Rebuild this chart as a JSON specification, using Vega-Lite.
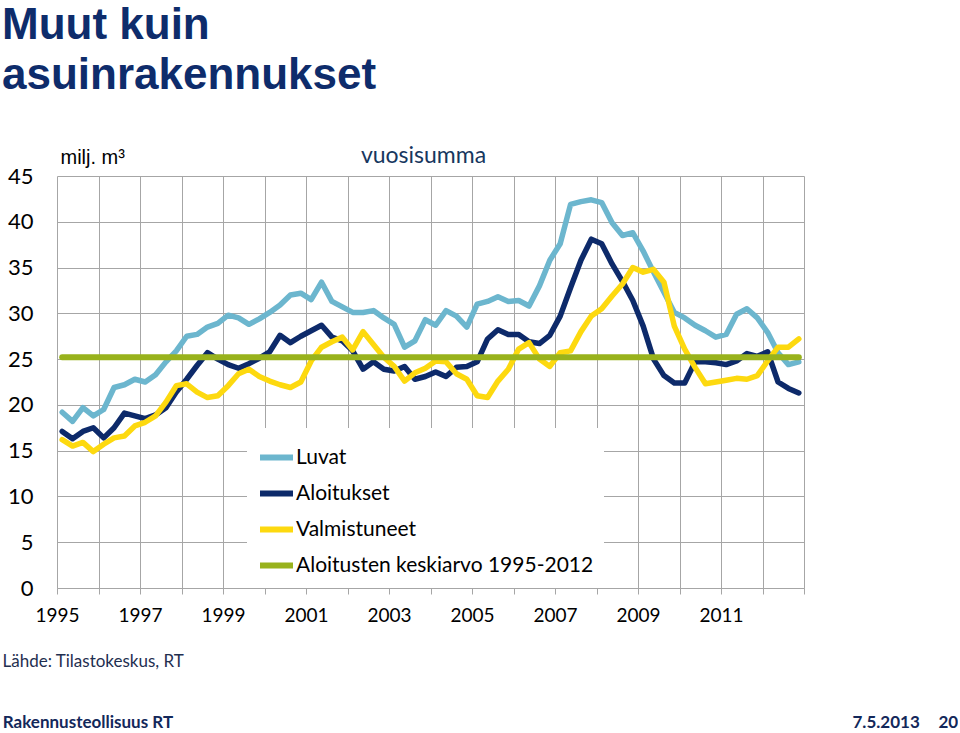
{
  "$schema": "https://vega.github.io/schema/vega-lite/v6.json",
  "width": 747,
  "height": 412,
  "padding": {"left": 2, "top": 4, "right": 0, "bottom": 0},
  "background": "white",
  "title": {
    "text": ["Muut kuin", "asuinrakennukset"],
    "anchor": "start",
    "frame": "bounds",
    "font": "Liberation Sans",
    "fontSize": 44,
    "fontWeight": "bold",
    "color": "#0E2C6B",
    "lineHeight": 50,
    "baseline": "top",
    "offset": 46
  },
  "datasets": {
    "main": [
      {"t": 1995.0, "Luvat": 19.2, "Aloitukset": 17.1, "Valmistuneet": 16.2},
      {"t": 1995.25, "Luvat": 18.2, "Aloitukset": 16.3, "Valmistuneet": 15.5},
      {"t": 1995.5, "Luvat": 19.7, "Aloitukset": 17.1, "Valmistuneet": 15.9},
      {"t": 1995.75, "Luvat": 18.8, "Aloitukset": 17.5, "Valmistuneet": 14.9},
      {"t": 1996.0, "Luvat": 19.5, "Aloitukset": 16.4, "Valmistuneet": 15.7},
      {"t": 1996.25, "Luvat": 21.9, "Aloitukset": 17.5, "Valmistuneet": 16.4},
      {"t": 1996.5, "Luvat": 22.2, "Aloitukset": 19.1, "Valmistuneet": 16.6},
      {"t": 1996.75, "Luvat": 22.8, "Aloitukset": 18.8, "Valmistuneet": 17.7},
      {"t": 1997.0, "Luvat": 22.5, "Aloitukset": 18.5, "Valmistuneet": 18.1},
      {"t": 1997.25, "Luvat": 23.3, "Aloitukset": 18.9, "Valmistuneet": 18.8},
      {"t": 1997.5, "Luvat": 24.7, "Aloitukset": 19.7, "Valmistuneet": 20.3},
      {"t": 1997.75, "Luvat": 25.9, "Aloitukset": 21.4, "Valmistuneet": 22.1},
      {"t": 1998.0, "Luvat": 27.5, "Aloitukset": 22.8, "Valmistuneet": 22.3},
      {"t": 1998.25, "Luvat": 27.7, "Aloitukset": 24.3, "Valmistuneet": 21.4},
      {"t": 1998.5, "Luvat": 28.5, "Aloitukset": 25.7, "Valmistuneet": 20.8},
      {"t": 1998.75, "Luvat": 28.9, "Aloitukset": 25.0, "Valmistuneet": 21.0},
      {"t": 1999.0, "Luvat": 29.8, "Aloitukset": 24.4, "Valmistuneet": 22.1},
      {"t": 1999.25, "Luvat": 29.5, "Aloitukset": 24.0, "Valmistuneet": 23.4},
      {"t": 1999.5, "Luvat": 28.8, "Aloitukset": 24.5, "Valmistuneet": 23.9},
      {"t": 1999.75, "Luvat": 29.4, "Aloitukset": 25.1, "Valmistuneet": 23.1},
      {"t": 2000.0, "Luvat": 30.1, "Aloitukset": 25.8, "Valmistuneet": 22.6},
      {"t": 2000.25, "Luvat": 30.9, "Aloitukset": 27.6, "Valmistuneet": 22.2},
      {"t": 2000.5, "Luvat": 32.0, "Aloitukset": 26.8, "Valmistuneet": 21.9},
      {"t": 2000.75, "Luvat": 32.2, "Aloitukset": 27.5, "Valmistuneet": 22.5},
      {"t": 2001.0, "Luvat": 31.5, "Aloitukset": 28.1, "Valmistuneet": 24.8},
      {"t": 2001.25, "Luvat": 33.4, "Aloitukset": 28.7, "Valmistuneet": 26.3},
      {"t": 2001.5, "Luvat": 31.3, "Aloitukset": 27.4, "Valmistuneet": 26.9},
      {"t": 2001.75, "Luvat": 30.7, "Aloitukset": 27.0, "Valmistuneet": 27.4},
      {"t": 2002.0, "Luvat": 30.1, "Aloitukset": 25.9, "Valmistuneet": 26.0},
      {"t": 2002.25, "Luvat": 30.1, "Aloitukset": 23.9, "Valmistuneet": 28.0},
      {"t": 2002.5, "Luvat": 30.3, "Aloitukset": 24.7, "Valmistuneet": 26.6},
      {"t": 2002.75, "Luvat": 29.5, "Aloitukset": 23.9, "Valmistuneet": 25.2},
      {"t": 2003.0, "Luvat": 28.8, "Aloitukset": 23.7, "Valmistuneet": 24.2},
      {"t": 2003.25, "Luvat": 26.3, "Aloitukset": 24.2, "Valmistuneet": 22.6},
      {"t": 2003.5, "Luvat": 27.0, "Aloitukset": 22.8, "Valmistuneet": 23.5},
      {"t": 2003.75, "Luvat": 29.3, "Aloitukset": 23.1, "Valmistuneet": 24.0},
      {"t": 2004.0, "Luvat": 28.7, "Aloitukset": 23.6, "Valmistuneet": 24.8},
      {"t": 2004.25, "Luvat": 30.3, "Aloitukset": 23.1, "Valmistuneet": 24.7},
      {"t": 2004.5, "Luvat": 29.7, "Aloitukset": 24.1, "Valmistuneet": 23.4},
      {"t": 2004.75, "Luvat": 28.5, "Aloitukset": 24.2, "Valmistuneet": 22.8},
      {"t": 2005.0, "Luvat": 31.0, "Aloitukset": 24.7, "Valmistuneet": 21.0},
      {"t": 2005.25, "Luvat": 31.3, "Aloitukset": 27.2, "Valmistuneet": 20.8},
      {"t": 2005.5, "Luvat": 31.8, "Aloitukset": 28.2, "Valmistuneet": 22.6},
      {"t": 2005.75, "Luvat": 31.3, "Aloitukset": 27.7, "Valmistuneet": 23.9},
      {"t": 2006.0, "Luvat": 31.4, "Aloitukset": 27.7, "Valmistuneet": 26.1},
      {"t": 2006.25, "Luvat": 30.8, "Aloitukset": 26.9, "Valmistuneet": 26.8},
      {"t": 2006.5, "Luvat": 33.0, "Aloitukset": 26.7, "Valmistuneet": 25.0},
      {"t": 2006.75, "Luvat": 35.8, "Aloitukset": 27.6, "Valmistuneet": 24.2},
      {"t": 2007.0, "Luvat": 37.6, "Aloitukset": 29.7, "Valmistuneet": 25.7},
      {"t": 2007.25, "Luvat": 41.9, "Aloitukset": 32.8, "Valmistuneet": 25.9},
      {"t": 2007.5, "Luvat": 42.2, "Aloitukset": 35.8, "Valmistuneet": 28.0},
      {"t": 2007.75, "Luvat": 42.4, "Aloitukset": 38.1, "Valmistuneet": 29.7},
      {"t": 2008.0, "Luvat": 42.1, "Aloitukset": 37.6, "Valmistuneet": 30.5},
      {"t": 2008.25, "Luvat": 39.9, "Aloitukset": 35.4, "Valmistuneet": 31.9},
      {"t": 2008.5, "Luvat": 38.5, "Aloitukset": 33.5, "Valmistuneet": 33.2},
      {"t": 2008.75, "Luvat": 38.8, "Aloitukset": 31.4, "Valmistuneet": 35.0},
      {"t": 2009.0, "Luvat": 36.8, "Aloitukset": 28.6, "Valmistuneet": 34.5},
      {"t": 2009.25, "Luvat": 34.5, "Aloitukset": 25.0, "Valmistuneet": 34.8},
      {"t": 2009.5, "Luvat": 32.3, "Aloitukset": 23.2, "Valmistuneet": 33.4},
      {"t": 2009.75, "Luvat": 30.1, "Aloitukset": 22.4, "Valmistuneet": 28.6},
      {"t": 2010.0, "Luvat": 29.5, "Aloitukset": 22.4, "Valmistuneet": 26.1},
      {"t": 2010.25, "Luvat": 28.7, "Aloitukset": 24.7, "Valmistuneet": 24.1},
      {"t": 2010.5, "Luvat": 28.1, "Aloitukset": 24.7, "Valmistuneet": 22.3},
      {"t": 2010.75, "Luvat": 27.4, "Aloitukset": 24.6, "Valmistuneet": 22.5},
      {"t": 2011.0, "Luvat": 27.7, "Aloitukset": 24.4, "Valmistuneet": 22.7},
      {"t": 2011.25, "Luvat": 29.9, "Aloitukset": 24.8, "Valmistuneet": 22.9},
      {"t": 2011.5, "Luvat": 30.5, "Aloitukset": 25.6, "Valmistuneet": 22.8},
      {"t": 2011.75, "Luvat": 29.5, "Aloitukset": 25.3, "Valmistuneet": 23.2},
      {"t": 2012.0, "Luvat": 27.9, "Aloitukset": 25.8, "Valmistuneet": 24.8},
      {"t": 2012.25, "Luvat": 25.7, "Aloitukset": 22.5, "Valmistuneet": 26.3},
      {"t": 2012.5, "Luvat": 24.4, "Aloitukset": 21.8, "Valmistuneet": 26.3},
      {"t": 2012.75, "Luvat": 24.7, "Aloitukset": 21.3, "Valmistuneet": 27.2}
    ],
    "avg": [
      {"t": 1995.0, "keskiarvo": 25.2},
      {"t": 2012.75, "keskiarvo": 25.2}
    ]
  },
  "layer": [
    {
      "data": {"name": "main"},
      "mark": {"type": "line", "strokeWidth": 5.5, "strokeJoin": "round", "strokeCap": "round"},
      "encoding": {
        "x": {
          "field": "t", "type": "quantitative",
          "scale": {"domain": [1994.875, 2012.875], "nice": false, "zero": false},
          "axis": {
            "orient": "bottom",
            "values": [1994.875, 1995.875, 1996.875, 1997.875, 1998.875, 1999.875, 2000.875, 2001.875, 2002.875, 2003.875, 2004.875, 2005.875, 2006.875, 2007.875, 2008.875, 2009.875, 2010.875, 2011.875, 2012.875],
            "grid": true,
            "ticks": true, "tickSize": 6,
            "domain": true,
            "labelExpr": "(round(datum.value+0.125)-1995)%2==0 && datum.value<2011.5 ? ''+round(datum.value+0.125) : ''",
            "labelDx": 5,
            "labelOverlap": false,
            "labelFlush": false,
            "labelFont": "Lato", "labelFontSize": 19, "labelColor": "#000000",
            "labelPadding": 12,
            "title": "Lähde: Tilastokeskus, RT",
            "titleX": -55, "titleY": 78,
            "titleAlign": "left", "titleAnchor": "start", "titleBaseline": "alphabetic",
            "titleFont": "Lato", "titleFontSize": 17, "titleFontWeight": "normal", "titleColor": "#1F2F50"
          }
        },
        "y": {
          "field": "Luvat", "type": "quantitative",
          "scale": {"domain": [0, 45], "nice": false},
          "axis": {
            "orient": "left",
            "values": [0, 5, 10, 15, 20, 25, 30, 35, 40, 45],
            "grid": true, "ticks": false, "domain": false,
            "labelFont": "Lato", "labelFontSize": 22, "labelColor": "#000000",
            "labelPadding": 24,
            "title": "milj. m³",
            "titleAngle": 0, "titleX": 3, "titleY": -13,
            "titleAlign": "left", "titleBaseline": "alphabetic",
            "titleFont": "Liberation Sans", "titleFontSize": 20, "titleFontWeight": "normal", "titleColor": "#000000"
          }
        },
        "color": {
          "datum": "Luvat", "type": "nominal",
          "scale": {
            "domain": ["Luvat", "Aloitukset", "Valmistuneet", "Aloitusten keskiarvo 1995-2012"],
            "range": ["#6CB6CE", "#0D2A6A", "#FDD90F", "#98B21C"]
          },
          "legend": {
            "orient": "none", "legendX": 190, "legendY": 252,
            "title": null,
            "fillColor": "#FFFFFF", "padding": 10,
            "symbolType": "stroke", "symbolSize": 1089, "symbolStrokeWidth": 6,
            "labelFont": "Lato", "labelFontSize": 21, "labelColor": "#000000",
            "labelOffset": 0, "rowPadding": 4, "labelLimit": 400
          }
        }
      }
    },
    {
      "data": {"name": "main"},
      "mark": {"type": "line", "strokeWidth": 5.5, "strokeJoin": "round", "strokeCap": "round"},
      "encoding": {
        "x": {
          "field": "t", "type": "quantitative",
          "axis": {
            "orient": "top", "labels": false, "ticks": false, "domain": false, "grid": false,
            "title": "vuosisumma", "titleX": 366, "titleY": -14,
            "titleAlign": "center", "titleBaseline": "alphabetic",
            "titleFont": "Lato", "titleFontSize": 23, "titleFontWeight": "normal", "titleColor": "#17375E"
          }
        },
        "y": {
          "field": "Aloitukset", "type": "quantitative",
          "axis": {
            "orient": "left", "labels": false, "ticks": false, "domain": false, "grid": false,
            "title": "Rakennusteollisuus RT", "titleAngle": 0, "titleX": -54.7, "titleY": 551,
            "titleAlign": "left", "titleBaseline": "alphabetic",
            "titleFont": "Lato", "titleFontSize": 17, "titleFontWeight": "bold", "titleColor": "#13285A"
          }
        },
        "color": {"datum": "Aloitukset", "type": "nominal"}
      }
    },
    {
      "data": {"name": "main"},
      "mark": {"type": "line", "strokeWidth": 5.5, "strokeJoin": "round", "strokeCap": "round"},
      "encoding": {
        "x": {
          "field": "t", "type": "quantitative",
          "axis": {
            "orient": "bottom", "labels": false, "ticks": false, "domain": false, "grid": false,
            "title": "7.5.2013", "titleX": 795, "titleY": 139,
            "titleAlign": "left", "titleBaseline": "alphabetic",
            "titleFont": "Lato", "titleFontSize": 17, "titleFontWeight": "bold", "titleColor": "#13285A"
          }
        },
        "y": {
          "field": "Valmistuneet", "type": "quantitative",
          "axis": {
            "orient": "right", "labels": false, "ticks": false, "domain": false, "grid": false,
            "title": "20", "titleAngle": 0, "titleX": 134, "titleY": 551,
            "titleAlign": "left", "titleBaseline": "alphabetic",
            "titleFont": "Lato", "titleFontSize": 17, "titleFontWeight": "bold", "titleColor": "#13285A"
          }
        },
        "color": {"datum": "Valmistuneet", "type": "nominal"}
      }
    },
    {
      "data": {"name": "avg"},
      "mark": {"type": "line", "strokeWidth": 6, "strokeCap": "round"},
      "encoding": {
        "x": {"field": "t", "type": "quantitative", "axis": null},
        "y": {"field": "keskiarvo", "type": "quantitative", "axis": null},
        "color": {"datum": "Aloitusten keskiarvo 1995-2012", "type": "nominal"}
      }
    }
  ],
  "resolve": {
    "scale": {"x": "shared", "y": "shared", "color": "shared"},
    "axis": {"x": "independent", "y": "independent"}
  },
  "config": {
    "view": {"stroke": null},
    "axis": {"gridColor": "#A6A6A6", "gridWidth": 1, "gridOpacity": 1, "domainColor": "#A6A6A6", "tickColor": "#A6A6A6", "domainWidth": 1, "tickWidth": 1}
  }
}
